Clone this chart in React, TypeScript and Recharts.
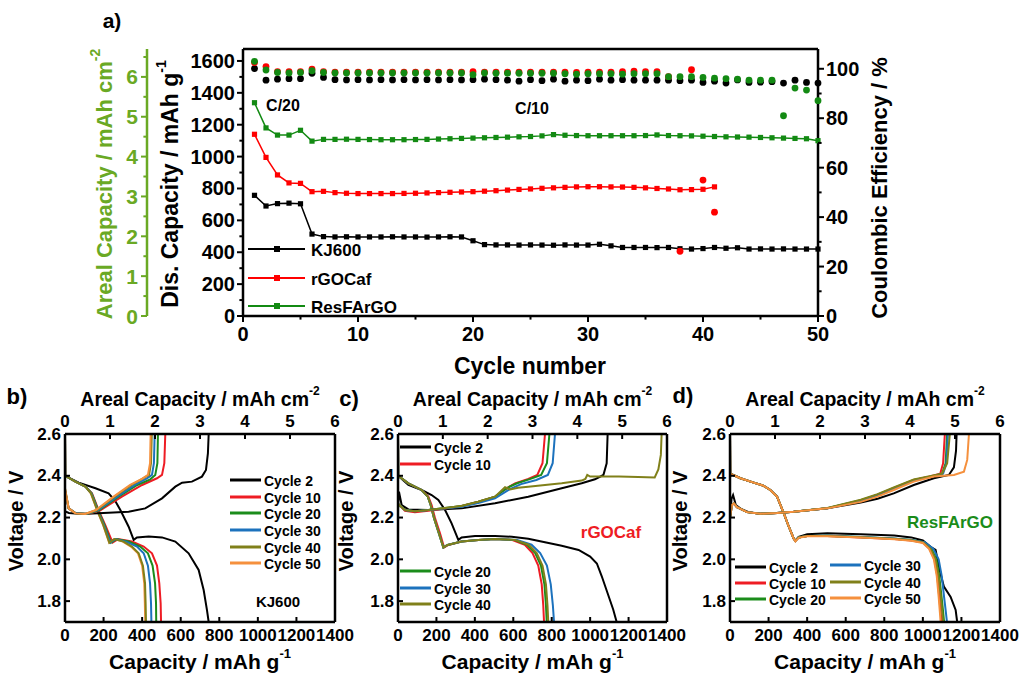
import React from "react";
import { ComposedChart, LineChart, Line, XAxis, YAxis, ReferenceLine, Customized } from "recharts";

const FONT = "Arial, 'Liberation Sans', Helvetica, sans-serif";
const AREAL_GREEN = "#6aa924";

// ---------- panel a: cycling ----------
const cycles = [1, 2, 3, 4, 5, 6, 7, 8, 9, 10, 11, 12, 13, 14, 15, 16, 17, 18, 19, 20, 21, 22, 23, 24, 25, 26, 27, 28, 29, 30, 31, 32, 33, 34, 35, 36, 37, 38, 39, 40, 41, 42, 43, 44, 45, 46, 47, 48, 49, 50];
const kj600Cap = [757, 690, 705, 708, 704, 514, 498, 496, 497, 496, 496, 496, 497, 496, 496, 495, 496, 497, 496, 472, 448, 446, 446, 445, 446, 445, 444, 446, 445, 445, 450, 440, 430, 430, 430, 429, 430, 422, 420, 423, 430, 425, 428, 420, 421, 420, 421, 420, 420, 420];
const rgoCap = [1140, 995, 885, 835, 832, 780, 782, 774, 770, 768, 768, 768, 768, 769, 770, 772, 774, 776, 778, 780, 783, 786, 790, 794, 797, 801, 804, 807, 810, 811, 811, 810, 809, 807, 804, 800, 797, 792, 793, 795, 810];
const resCap = [1338, 1180, 1135, 1135, 1165, 1097, 1108, 1108, 1109, 1108, 1107, 1106, 1106, 1106, 1107, 1108, 1110, 1112, 1114, 1116, 1118, 1120, 1122, 1124, 1126, 1130, 1138, 1134, 1132, 1131, 1131, 1131, 1131, 1131, 1132, 1136, 1132, 1131, 1130, 1128, 1126, 1124, 1123, 1122, 1120, 1118, 1116, 1114, 1112, 1100];
const kj600CE = [100.1, 95.4, 95.8, 96.0, 96.0, 98.2, 96.5, 95.6, 95.5, 95.6, 95.5, 95.6, 95.5, 95.6, 95.5, 95.6, 95.5, 95.6, 95.5, 95.6, 95.8, 95.6, 95.4, 95.0, 95.6, 95.2, 95.8, 95.0, 95.4, 95.2, 95.8, 95.4, 95.6, 95.4, 95.4, 95.4, 95.4, 95.2, 95.4, 94.5, 95.0, 94.2, 95.5, 94.5, 94.6, 94.8, 94.2, 95.4, 94.5, 94.2];
const rgoCE = [102.5, 100.9, 98.8, 98.8, 98.8, 99.9, 98.8, 98.6, 98.6, 98.6, 98.6, 98.6, 98.6, 98.6, 98.6, 98.6, 98.6, 98.6, 98.6, 98.8, 98.6, 98.6, 98.6, 98.6, 98.6, 98.6, 98.6, 98.6, 98.5, 98.6, 98.6, 98.6, 98.8, 99.0, 98.8, 98.8, 96.8, 26.2, 99.6, 55.0, 42.0];
const resCE = [103.0, 99.5, 98.5, 98.3, 98.5, 99.2, 98.5, 98.3, 98.3, 98.3, 98.3, 98.3, 98.3, 98.3, 98.3, 98.3, 98.3, 98.3, 98.3, 97.6, 98.3, 98.2, 98.2, 98.2, 98.2, 98.2, 98.2, 98.0, 97.8, 98.0, 98.0, 98.0, 97.8, 98.0, 98.0, 98.0, 96.8, 96.8, 96.8, 96.5, 96.2, 96.0, 95.8, 95.4, 95.4, 95.4, 81.0, 92.2, 91.4, 87.1];
const seriesNames = ["KJ600", "rGOCaf", "ResFArGO"];
const seriesColors = ["#000000", "#ff0000", "#138a13"];

const cycleTicks = [0, 5, 10, 15, 20, 25, 30, 35, 40, 45, 50];
const capTicks = [0, 100, 200, 300, 400, 500, 600, 700, 800, 900, 1000, 1100, 1200, 1300, 1400, 1500, 1600];
const arealTicksA = [0, 0.5, 1, 1.5, 2, 2.5, 3, 3.5, 4, 4.5, 5, 5.5, 6, 6.5];
const ceTicks = [0, 10, 20, 30, 40, 50, 60, 70, 80, 90, 100];

// ---------- panels b-d: voltage profiles [capacity mAh/g, voltage V] ----------
type Pt = [number, number];
const cycleNames = ["Cycle 2", "Cycle 10", "Cycle 20", "Cycle 30", "Cycle 40", "Cycle 50"];
const cycleColors = ["#000000", "#ee1c24", "#1b8c1b", "#1c72bd", "#80801a", "#f5903d"];
const gravTicks = [0, 200, 400, 600, 800, 1000, 1200, 1400];
const arealTicks = [0, 1, 2, 3, 4, 5, 6];
const voltTicks = [1.8, 2.0, 2.2, 2.4, 2.6];

// b) KJ600
const bDis2: Pt[] = [[0, 2.6], [1, 2.4], [71, 2.367], [158, 2.34], [226, 2.316], [260, 2.28], [287, 2.236], [330, 2.156], [356, 2.093], [373, 2.105], [434, 2.109], [503, 2.105], [572, 2.085], [641, 2.029], [693, 1.949], [719, 1.853], [736, 1.758], [745, 1.7]];
const bCha2: Pt[] = [[0, 1.7], [0, 2.23], [20, 2.222], [88, 2.217], [200, 2.222], [330, 2.228], [416, 2.244], [503, 2.292], [572, 2.348], [607, 2.367], [658, 2.372], [710, 2.396], [731, 2.428], [741, 2.507], [745, 2.6]];
const bDis10: Pt[] = [[0, 2.6], [1, 2.4], [54, 2.372], [106, 2.348], [140, 2.316], [157, 2.276], [174, 2.236], [209, 2.164], [247, 2.08], [275, 2.097], [347, 2.085], [408, 2.061], [451, 2.029], [477, 1.97], [489, 1.885], [496, 1.79], [498, 1.7]];
const bCha10: Pt[] = [[0, 1.7], [0, 2.33], [19, 2.244], [54, 2.222], [120, 2.217], [185, 2.236], [295, 2.3], [400, 2.356], [477, 2.388], [503, 2.404], [515, 2.46], [520, 2.6]];
const bDis20: Pt[] = [[0, 2.6], [1, 2.4], [54, 2.372], [106, 2.348], [138, 2.316], [155, 2.276], [171, 2.236], [205, 2.164], [238, 2.08], [266, 2.097], [330, 2.085], [390, 2.061], [430, 2.029], [454, 1.97], [467, 1.885], [472, 1.79], [473, 1.7]];
const bCha20: Pt[] = [[0, 1.7], [0, 2.33], [19, 2.244], [54, 2.222], [115, 2.217], [178, 2.236], [278, 2.3], [375, 2.356], [442, 2.383], [468, 2.404], [479, 2.46], [482, 2.6]];
const bDis30: Pt[] = [[0, 2.6], [1, 2.4], [54, 2.372], [106, 2.348], [137, 2.316], [153, 2.276], [169, 2.236], [202, 2.164], [235, 2.08], [261, 2.097], [316, 2.085], [373, 2.061], [408, 2.029], [430, 1.97], [441, 1.885], [446, 1.79], [448, 1.7]];
const bCha30: Pt[] = [[0, 1.7], [0, 2.33], [19, 2.244], [54, 2.222], [110, 2.217], [172, 2.236], [270, 2.3], [362, 2.356], [425, 2.388], [451, 2.404], [461, 2.46], [465, 2.6]];
const bDis40: Pt[] = [[0, 2.6], [1, 2.4], [54, 2.372], [106, 2.348], [135, 2.316], [151, 2.276], [167, 2.236], [199, 2.164], [230, 2.08], [256, 2.097], [304, 2.085], [347, 2.061], [382, 2.029], [404, 1.97], [415, 1.885], [418, 1.79], [420, 1.7]];
const bCha40: Pt[] = [[0, 1.7], [0, 2.34], [19, 2.244], [54, 2.22], [105, 2.217], [165, 2.236], [257, 2.3], [345, 2.356], [405, 2.388], [436, 2.404], [446, 2.46], [450, 2.6]];
const bDis50: Pt[] = [[0, 2.6], [1, 2.4], [54, 2.372], [106, 2.348], [134, 2.316], [150, 2.276], [166, 2.236], [198, 2.164], [229, 2.08], [255, 2.097], [300, 2.085], [342, 2.061], [378, 2.029], [400, 1.97], [411, 1.885], [414, 1.79], [416, 1.7]];
const bCha50: Pt[] = [[0, 1.7], [0, 2.34], [19, 2.244], [54, 2.22], [105, 2.217], [160, 2.236], [252, 2.3], [338, 2.356], [399, 2.385], [430, 2.404], [441, 2.46], [444, 2.6]];

// c) rGOCaf
const cDis2: Pt[] = [[0, 2.6], [1, 2.4], [54, 2.356], [123, 2.332], [175, 2.308], [210, 2.284], [245, 2.236], [279, 2.172], [314, 2.093], [331, 2.105], [401, 2.112], [505, 2.112], [592, 2.108], [678, 2.098], [765, 2.082], [852, 2.065], [940, 2.045], [1000, 2.013], [1035, 1.98], [1060, 1.92], [1090, 1.84], [1120, 1.76], [1138, 1.7]];
const cCha2: Pt[] = [[0, 1.7], [0, 2.25], [5, 2.324], [19, 2.26], [54, 2.239], [158, 2.236], [331, 2.244], [505, 2.268], [678, 2.3], [852, 2.34], [956, 2.364], [1025, 2.383], [1069, 2.404], [1086, 2.46], [1091, 2.6]];
const cDis10: Pt[] = [[0, 2.6], [1, 2.4], [54, 2.364], [123, 2.332], [158, 2.3], [175, 2.26], [193, 2.196], [219, 2.124], [240, 2.057], [262, 2.069], [331, 2.085], [418, 2.093], [505, 2.097], [592, 2.093], [660, 2.07], [700, 2.03], [730, 1.97], [748, 1.88], [756, 1.78], [760, 1.7]];
const cCha10: Pt[] = [[0, 1.7], [0, 2.25], [8, 2.26], [36, 2.232], [88, 2.225], [158, 2.232], [331, 2.255], [418, 2.276], [505, 2.3], [574, 2.345], [609, 2.364], [678, 2.385], [725, 2.404], [752, 2.46], [765, 2.6]];
const cDis20: Pt[] = [[0, 2.6], [1, 2.4], [54, 2.364], [123, 2.332], [155, 2.3], [170, 2.26], [188, 2.196], [213, 2.124], [236, 2.057], [258, 2.069], [331, 2.085], [418, 2.093], [505, 2.097], [605, 2.093], [672, 2.07], [714, 2.03], [744, 1.97], [762, 1.88], [770, 1.78], [774, 1.7]];
const cCha20: Pt[] = [[0, 1.7], [0, 2.25], [8, 2.26], [36, 2.236], [88, 2.23], [158, 2.236], [331, 2.255], [418, 2.276], [505, 2.3], [574, 2.345], [620, 2.364], [690, 2.385], [745, 2.404], [775, 2.46], [788, 2.6]];
const cDis30: Pt[] = [[0, 2.6], [1, 2.4], [54, 2.364], [123, 2.332], [155, 2.3], [170, 2.26], [188, 2.196], [213, 2.124], [236, 2.057], [258, 2.069], [331, 2.085], [418, 2.093], [505, 2.097], [620, 2.093], [695, 2.07], [740, 2.03], [775, 1.97], [795, 1.88], [806, 1.78], [812, 1.7]];
const cCha30: Pt[] = [[0, 1.7], [0, 2.25], [8, 2.26], [36, 2.236], [88, 2.23], [158, 2.236], [331, 2.252], [418, 2.27], [505, 2.292], [580, 2.335], [640, 2.36], [720, 2.38], [780, 2.404], [805, 2.46], [817, 2.6]];
const cDis40: Pt[] = [[0, 2.6], [1, 2.4], [54, 2.364], [123, 2.332], [155, 2.3], [170, 2.26], [188, 2.196], [213, 2.124], [236, 2.057], [258, 2.069], [331, 2.085], [418, 2.093], [505, 2.097], [610, 2.093], [680, 2.07], [722, 2.03], [752, 1.97], [770, 1.88], [778, 1.78], [782, 1.7]];
const cCha40: Pt[] = [[0, 1.7], [0, 2.25], [8, 2.26], [36, 2.236], [88, 2.23], [158, 2.236], [331, 2.255], [418, 2.276], [505, 2.3], [557, 2.345], [583, 2.335], [625, 2.343], [678, 2.348], [852, 2.364], [956, 2.377], [975, 2.385], [985, 2.404], [1000, 2.396], [1150, 2.396], [1250, 2.394], [1336, 2.392], [1355, 2.43], [1368, 2.5], [1372, 2.6]];

// d) ResFArGO
const dDis2: Pt[] = [[0, 2.6], [1, 2.41], [54, 2.388], [123, 2.367], [175, 2.352], [209, 2.332], [244, 2.3], [279, 2.22], [305, 2.156], [330, 2.1], [339, 2.09], [356, 2.108], [400, 2.12], [505, 2.125], [678, 2.12], [852, 2.114], [940, 2.105], [1000, 2.09], [1040, 2.06], [1066, 2.045], [1080, 1.98], [1092, 1.93], [1109, 1.87], [1144, 1.82], [1170, 1.758], [1178, 1.7]];
const dCha2: Pt[] = [[0, 1.7], [0, 2.2], [8, 2.29], [16, 2.308], [30, 2.26], [60, 2.24], [100, 2.225], [157, 2.218], [244, 2.222], [330, 2.228], [505, 2.244], [678, 2.272], [765, 2.29], [849, 2.316], [953, 2.356], [1057, 2.388], [1135, 2.404], [1161, 2.44], [1172, 2.52], [1175, 2.6]];
const dDis10: Pt[] = [[0, 2.6], [1, 2.41], [54, 2.388], [123, 2.367], [175, 2.352], [209, 2.332], [244, 2.3], [279, 2.22], [305, 2.156], [330, 2.1], [339, 2.088], [356, 2.105], [400, 2.112], [505, 2.112], [678, 2.105], [852, 2.097], [940, 2.09], [1000, 2.08], [1035, 2.05], [1060, 2.0], [1075, 1.92], [1085, 1.82], [1092, 1.75], [1097, 1.7]];
const dCha10: Pt[] = [[0, 1.7], [0, 2.2], [10, 2.26], [20, 2.268], [36, 2.25], [88, 2.226], [157, 2.218], [244, 2.222], [330, 2.228], [505, 2.244], [678, 2.28], [765, 2.308], [849, 2.34], [953, 2.38], [1030, 2.396], [1090, 2.41], [1105, 2.46], [1114, 2.6]];
const dDis20: Pt[] = [[0, 2.6], [1, 2.41], [54, 2.388], [123, 2.367], [175, 2.352], [209, 2.332], [244, 2.3], [279, 2.22], [305, 2.156], [330, 2.1], [339, 2.088], [356, 2.105], [400, 2.112], [505, 2.113], [678, 2.107], [852, 2.099], [940, 2.092], [1005, 2.082], [1045, 2.05], [1070, 2.0], [1085, 1.92], [1097, 1.82], [1105, 1.75], [1110, 1.7]];
const dCha20: Pt[] = [[0, 1.7], [0, 2.2], [10, 2.26], [20, 2.268], [36, 2.25], [88, 2.226], [157, 2.218], [244, 2.222], [330, 2.228], [505, 2.245], [678, 2.283], [765, 2.31], [849, 2.342], [953, 2.38], [1040, 2.396], [1100, 2.41], [1118, 2.46], [1126, 2.6]];
const dDis30: Pt[] = [[0, 2.6], [1, 2.41], [54, 2.388], [123, 2.367], [175, 2.352], [209, 2.332], [244, 2.3], [279, 2.22], [305, 2.156], [330, 2.1], [339, 2.088], [356, 2.105], [400, 2.112], [505, 2.113], [678, 2.107], [852, 2.1], [940, 2.093], [1010, 2.082], [1055, 2.05], [1082, 2.0], [1098, 1.92], [1110, 1.82], [1119, 1.75], [1125, 1.7]];
const dCha30: Pt[] = [[0, 1.7], [0, 2.2], [10, 2.26], [20, 2.268], [36, 2.25], [88, 2.226], [157, 2.218], [244, 2.222], [330, 2.228], [505, 2.245], [678, 2.282], [765, 2.31], [849, 2.34], [953, 2.378], [1045, 2.396], [1105, 2.41], [1122, 2.46], [1130, 2.6]];
const dDis40: Pt[] = [[0, 2.6], [1, 2.41], [54, 2.388], [123, 2.367], [175, 2.352], [209, 2.332], [244, 2.3], [279, 2.22], [305, 2.156], [330, 2.1], [339, 2.088], [356, 2.105], [400, 2.112], [505, 2.112], [678, 2.106], [852, 2.098], [940, 2.091], [1002, 2.081], [1040, 2.05], [1066, 2.0], [1081, 1.92], [1093, 1.82], [1100, 1.75], [1105, 1.7]];
const dCha40: Pt[] = [[0, 1.7], [0, 2.2], [10, 2.26], [20, 2.268], [36, 2.25], [88, 2.226], [157, 2.218], [244, 2.222], [330, 2.228], [505, 2.246], [678, 2.285], [765, 2.312], [849, 2.344], [953, 2.382], [1022, 2.396], [1100, 2.41], [1126, 2.46], [1140, 2.6]];
const dDis50: Pt[] = [[0, 2.6], [1, 2.41], [54, 2.388], [123, 2.367], [175, 2.352], [209, 2.332], [244, 2.3], [279, 2.22], [305, 2.156], [330, 2.1], [339, 2.086], [356, 2.103], [400, 2.11], [505, 2.11], [678, 2.104], [852, 2.096], [940, 2.089], [1000, 2.078], [1032, 2.05], [1057, 2.0], [1072, 1.92], [1082, 1.82], [1088, 1.75], [1092, 1.7]];
const dCha50: Pt[] = [[0, 1.7], [0, 2.2], [10, 2.26], [20, 2.268], [36, 2.25], [88, 2.226], [157, 2.218], [244, 2.222], [330, 2.228], [505, 2.244], [678, 2.275], [765, 2.3], [849, 2.332], [953, 2.372], [1057, 2.396], [1161, 2.404], [1213, 2.42], [1230, 2.476], [1239, 2.6]];

// ---------- helpers ----------
const isMajor = (v: number, step: number) => Math.abs(v / step - Math.round(v / step)) < 1e-6;

type TickOpt = {
  pos: number; dir: number; step: number; len: number; color: string;
  size: number; label: number; anchor: string; fmt: (v: number) => string;
};

const yTick = (o: TickOpt) => (p: any) => {
  const v = p.payload.value;
  const major = isMajor(v, o.step);
  const l = major ? o.len : o.len * 0.6;
  return (
    <g key={`yt-${v}`}>
      <line x1={o.pos} x2={o.pos + o.dir * l} y1={p.y} y2={p.y} stroke={o.color} strokeWidth={2} />
      {major && (
        <text x={o.label} y={p.y} textAnchor={o.anchor} dominantBaseline="central" fontFamily={FONT} fontWeight="bold" fontSize={o.size} fill={o.color}>
          {o.fmt(v)}
        </text>
      )}
    </g>
  );
};

const xTick = (o: TickOpt) => (p: any) => {
  const v = p.payload.value;
  const major = isMajor(v, o.step);
  const l = major ? o.len : o.len * 0.6;
  return (
    <g key={`xt-${v}`}>
      <line x1={p.x} x2={p.x} y1={o.pos} y2={o.pos + o.dir * l} stroke={o.color} strokeWidth={2} />
      {major && (
        <text x={p.x} y={o.label} textAnchor="middle" dominantBaseline="central" fontFamily={FONT} fontWeight="bold" fontSize={o.size} fill={o.color}>
          {o.fmt(v)}
        </text>
      )}
    </g>
  );
};

const squareDot = (color: string) => (p: any) =>
  p.cx == null || p.cy == null ? (
    <g key={`s-${p.index}`} />
  ) : (
    <rect key={`s-${p.index}`} x={p.cx - 2.6} y={p.cy - 2.6} width={5.2} height={5.2} fill={color} />
  );

const roundDot = (color: string) => (p: any) =>
  p.cx == null || p.cy == null ? (
    <g key={`c-${p.index}`} />
  ) : (
    <circle key={`c-${p.index}`} cx={p.cx} cy={p.cy} r={3.4} fill={color} />
  );

const str = (v: number) => String(v);
const axisStroke = { stroke: "#000", strokeWidth: 2.5 };

// ---------- panel a ----------
const aRows = cycles.map((c, i) => ({
  cycle: c,
  kj: kj600Cap[i],
  rgo: rgoCap[i],
  res: resCap[i],
  kjCE: kj600CE[i],
  rgoCE: rgoCE[i],
  resCE: resCE[i],
}));

// the areal axis has no series of its own; an invisible helper built from its ticks gives it a domain
const arealHelperRows = arealTicksA.map((v) => ({ arealTick: v }));

const PanelAText = () => (
  <g fontFamily={FONT} fontWeight="bold">
    <text x={112} y={20} fontSize={21} textAnchor="middle" dominantBaseline="central">a)</text>
    <text x={283} y={105} fontSize={16} textAnchor="middle" dominantBaseline="central">C/20</text>
    <text x={532} y={108} fontSize={16} textAnchor="middle" dominantBaseline="central">C/10</text>
    {seriesNames.map((n, i) => {
      const y = [249, 278, 306][i];
      return (
        <g key={n}>
          <line x1={248} x2={305} y1={y} y2={y} stroke={seriesColors[i]} strokeWidth={2} />
          <rect x={274} y={y - 3} width={6} height={6} fill={seriesColors[i]} />
          <text x={311} y={y + 1} fontSize={17} dominantBaseline="central">{n}</text>
        </g>
      );
    })}
    <text transform="rotate(-90 104 184)" x={104} y={184} fontSize={22} fill={AREAL_GREEN} textAnchor="middle" dominantBaseline="central">
      Areal Capacity / mAh cm<tspan dy={-9} fontSize={14}>-2</tspan>
    </text>
    <text transform="rotate(-90 170 184)" x={170} y={184} fontSize={23} textAnchor="middle" dominantBaseline="central">
      Dis. Capacity / mAh g<tspan dy={-9} fontSize={14}>-1</tspan>
    </text>
    <text transform="rotate(-90 879 188)" x={879} y={188} fontSize={22} textAnchor="middle" dominantBaseline="central">
      Coulombic Efficiency / %
    </text>
    <text x={530} y={366} fontSize={23} textAnchor="middle" dominantBaseline="central">Cycle number</text>
  </g>
);

function PanelA() {
  const keys = ["kj", "rgo", "res"];
  const ceKeys = ["kjCE", "rgoCE", "resCE"];
  // left axes are stacked by id: "aCap" sits against the plot, "bAreal" outside it
  return (
    <ComposedChart width={960} height={380} data={aRows} margin={{ top: 49, right: 62, bottom: 0, left: 85 }}>
      <XAxis dataKey="cycle" type="number" domain={[0, 50]} ticks={cycleTicks} interval={0} height={64}
        axisLine={axisStroke} tickLine={false}
        tick={xTick({ pos: 316, dir: 1, step: 10, len: 6, color: "#000", size: 20, label: 334, anchor: "middle", fmt: str })} />
      <YAxis yAxisId="aCap" type="number" domain={[0, 1675]} ticks={capTicks} interval={0} width={96}
        axisLine={axisStroke} tickLine={false}
        tick={yTick({ pos: 243, dir: -1, step: 200, len: 6, color: "#000", size: 20, label: 235, anchor: "end", fmt: str })} />
      <YAxis yAxisId="bAreal" type="number" domain={[0, 6.7]} ticks={arealTicksA} interval={0} width={62}
        axisLine={{ stroke: AREAL_GREEN, strokeWidth: 2.5 }} tickLine={false}
        tick={yTick({ pos: 147, dir: -1, step: 1, len: 6, color: AREAL_GREEN, size: 21, label: 138, anchor: "end", fmt: str })} />
      <YAxis yAxisId="ce" orientation="right" type="number" domain={[0, 108]} ticks={ceTicks} interval={0} width={80}
        axisLine={axisStroke} tickLine={false}
        tick={yTick({ pos: 818, dir: 1, step: 20, len: 6, color: "#000", size: 20, label: 826, anchor: "start", fmt: str })} />
      <ReferenceLine yAxisId="aCap" y={1675} stroke="#000" strokeWidth={2.5} />
      <Line yAxisId="bAreal" data={arealHelperRows} dataKey="arealTick" stroke="none" dot={false} activeDot={false} isAnimationActive={false} />
      {keys.map((k, i) => (
        <Line key={k} yAxisId="aCap" dataKey={k} stroke={seriesColors[i]} strokeWidth={1.5}
          dot={squareDot(seriesColors[i])} activeDot={false} isAnimationActive={false} />
      ))}
      {ceKeys.map((k, i) => (
        <Line key={k} yAxisId="ce" dataKey={k} stroke="none"
          dot={roundDot(seriesColors[i])} activeDot={false} isAnimationActive={false} />
      ))}
      <Customized component={PanelAText} />
    </ComposedChart>
  );
}

// ---------- panels b-d ----------
type Trace = { id: string; color: string; pts: Pt[] };
type LegendItem = { name: string; color: string; x: number; y: number };

type PanelProps = {
  left: number; width: number; mLeft: number; mRight: number;
  traces: Trace[]; letter: string; letterX: number; letterY: number; voltX: number;
  legend: LegendItem[]; note: { text: string; color: string; x: number; y: number; size: number };
};

// the areal-capacity axis has no series of its own; its tick values give it a domain
const arealRows = arealTicks.map((a) => ({ x: a }));

function VoltagePanel(props: PanelProps) {
  const { left, width, mLeft, mRight, traces, letter, letterX, letterY, voltX, legend, note } = props;
  const plotL = mLeft + 50;
  const plotR = width - mRight;
  const midX = (plotL + plotR) / 2;
  const Overlay = () => (
    <g fontFamily={FONT} fontWeight="bold">
      <text x={letterX} y={letterY} fontSize={22} textAnchor="middle" dominantBaseline="central">{letter}</text>
      <text x={midX} y={19} fontSize={19.5} textAnchor="middle" dominantBaseline="central">
        Areal Capacity / mAh cm<tspan dy={-8} fontSize={12}>-2</tspan>
      </text>
      <text x={midX} y={281} fontSize={21} textAnchor="middle" dominantBaseline="central">
        Capacity / mAh g<tspan dy={-8} fontSize={13}>-1</tspan>
      </text>
      <text transform={`rotate(-90 ${voltX} 141)`} x={voltX} y={141} fontSize={20} textAnchor="middle" dominantBaseline="central">
        Voltage / V
      </text>
      {legend.map((l) => (
        <g key={l.name}>
          <line x1={l.x} x2={l.x + 31} y1={l.y} y2={l.y} stroke={l.color} strokeWidth={3} />
          <text x={l.x + 34} y={l.y + 1} fontSize={14} dominantBaseline="central">{l.name}</text>
        </g>
      ))}
      <text x={note.x} y={note.y} fontSize={note.size} fill={note.color} textAnchor="middle" dominantBaseline="central">{note.text}</text>
    </g>
  );
  return (
    <div style={{ position: "absolute", left, top: 380, width, height: 294 }}>
      <LineChart width={width} height={294} margin={{ top: 14, right: mRight, bottom: 0, left: mLeft }}>
        <XAxis xAxisId="bottom" dataKey="x" type="number" domain={[0, 1400]} ticks={gravTicks} interval={0} height={52}
          axisLine={axisStroke} tickLine={false}
          tick={xTick({ pos: 242, dir: -1, step: 200, len: 5, color: "#000", size: 17, label: 255, anchor: "middle", fmt: str })} />
        <XAxis xAxisId="top" dataKey="x" orientation="top" type="number" domain={[0, 6]} ticks={arealTicks} interval={0} height={40}
          axisLine={axisStroke} tickLine={false}
          tick={xTick({ pos: 54, dir: 1, step: 1, len: 5, color: "#000", size: 17, label: 41, anchor: "middle", fmt: str })} />
        <YAxis type="number" domain={[1.7, 2.6]} ticks={voltTicks} interval={0} width={50}
          axisLine={axisStroke} tickLine={false}
          tick={yTick({ pos: plotL, dir: 1, step: 0.2, len: 5, color: "#000", size: 17, label: plotL - 4, anchor: "end", fmt: (v) => v.toFixed(1) })} />
        <ReferenceLine xAxisId="bottom" x={1400} stroke="#000" strokeWidth={2.5} />
        <Line xAxisId="top" data={arealRows} dataKey="y" stroke="none" dot={false} activeDot={false} isAnimationActive={false} />
        {traces.map((t) => (
          <Line key={t.id} xAxisId="bottom" data={t.pts.map(([x, y]) => ({ x, y }))} dataKey="y"
            stroke={t.color} strokeWidth={2} dot={false} activeDot={false} isAnimationActive={false} />
        ))}
        <Customized component={Overlay} />
      </LineChart>
    </div>
  );
}

const [K2, K10, K20, K30, K40, K50] = cycleColors;

const bTraces: Trace[] = [
  { id: "d50", color: K50, pts: bDis50 },
  { id: "d2", color: K2, pts: bDis2 },
  { id: "d10", color: K10, pts: bDis10 },
  { id: "d20", color: K20, pts: bDis20 },
  { id: "d30", color: K30, pts: bDis30 },
  { id: "d40", color: K40, pts: bDis40 },
  { id: "c2", color: K2, pts: bCha2 },
  { id: "c10", color: K10, pts: bCha10 },
  { id: "c20", color: K20, pts: bCha20 },
  { id: "c30", color: K30, pts: bCha30 },
  { id: "c40", color: K40, pts: bCha40 },
  { id: "c50", color: K50, pts: bCha50 },
];

const cTraces: Trace[] = [
  { id: "d2", color: K2, pts: cDis2 },
  { id: "d10", color: K10, pts: cDis10 },
  { id: "d20", color: K20, pts: cDis20 },
  { id: "d30", color: K30, pts: cDis30 },
  { id: "d40", color: K40, pts: cDis40 },
  { id: "c2", color: K2, pts: cCha2 },
  { id: "c10", color: K10, pts: cCha10 },
  { id: "c20", color: K20, pts: cCha20 },
  { id: "c30", color: K30, pts: cCha30 },
  { id: "c40", color: K40, pts: cCha40 },
];

const dTraces: Trace[] = [
  { id: "d2", color: K2, pts: dDis2 },
  { id: "d10", color: K10, pts: dDis10 },
  { id: "d20", color: K20, pts: dDis20 },
  { id: "d30", color: K30, pts: dDis30 },
  { id: "d40", color: K40, pts: dDis40 },
  { id: "d50", color: K50, pts: dDis50 },
  { id: "c2", color: K2, pts: dCha2 },
  { id: "c10", color: K10, pts: dCha10 },
  { id: "c20", color: K20, pts: dCha20 },
  { id: "c30", color: K30, pts: dCha30 },
  { id: "c40", color: K40, pts: dCha40 },
  { id: "c50", color: K50, pts: dCha50 },
];

const bLegend: LegendItem[] = cycleNames.map((n, i) => ({ name: n, color: cycleColors[i], x: 230, y: [100, 117, 133, 150, 167, 183][i] }));
const cLegend: LegendItem[] = cycleNames.slice(0, 5).map((n, i) => ({ name: n, color: cycleColors[i], x: 70, y: [67, 84, 191, 208, 224][i] }));
const dLegend: LegendItem[] = cycleNames.map((n, i) => ({
  name: n, color: cycleColors[i], x: i < 3 ? 75 : 170, y: [187, 203, 219, 185, 202, 218][i],
}));

export default function App() {
  return (
    <div style={{ position: "absolute", left: 0, top: 0, width: 1026, height: 674, background: "#fff", overflow: "hidden" }}>
      <div style={{ position: "absolute", left: 0, top: 0 }}>
        <PanelA />
      </div>
      <VoltagePanel left={0} width={360} mLeft={15} mRight={25} traces={bTraces} letter="b)" letterX={17} letterY={16} voltX={16}
        legend={bLegend} note={{ text: "KJ600", color: "#000", x: 278, y: 221, size: 15 }} />
      <VoltagePanel left={330} width={360} mLeft={18} mRight={23} traces={cTraces} letter="c)" letterX={19} letterY={18} voltX={16}
        legend={cLegend} note={{ text: "rGOCaf", color: "#ee1c24", x: 281, y: 152, size: 17 }} />
      <VoltagePanel left={660} width={366} mLeft={20} mRight={26} traces={dTraces} letter="d)" letterX={23} letterY={15} voltX={20}
        legend={dLegend} note={{ text: "ResFArGO", color: "#1a8c1a", x: 290, y: 142, size: 17 }} />
    </div>
  );
}
